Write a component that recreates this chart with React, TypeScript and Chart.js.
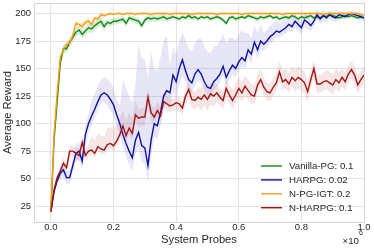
import React, { useEffect, useRef } from 'react';
import { Chart, registerables } from 'chart.js';

Chart.register(...registerables);

const probes = [
  0, 0.01, 0.02, 0.03, 0.04, 0.05, 0.06, 0.07, 0.08, 0.09,
  0.1, 0.11, 0.12, 0.13, 0.14, 0.15, 0.16, 0.17, 0.18, 0.19,
  0.2, 0.21, 0.22, 0.23, 0.24, 0.25, 0.26, 0.27, 0.28, 0.29,
  0.3, 0.31, 0.32, 0.33, 0.34, 0.35, 0.36, 0.37, 0.38, 0.39,
  0.4, 0.41, 0.42, 0.43, 0.44, 0.45, 0.46, 0.47, 0.48, 0.49,
  0.5, 0.51, 0.52, 0.53, 0.54, 0.55, 0.56, 0.57, 0.58, 0.59,
  0.6, 0.61, 0.62, 0.63, 0.64, 0.65, 0.66, 0.67, 0.68, 0.69,
  0.7, 0.71, 0.72, 0.73, 0.74, 0.75, 0.76, 0.77, 0.78, 0.79,
  0.8, 0.81, 0.82, 0.83, 0.84, 0.85, 0.86, 0.87, 0.88, 0.89,
  0.9, 0.91, 0.92, 0.93, 0.94, 0.95, 0.96, 0.97, 0.98, 0.99, 1.0,
];

const vanillaPG = [
  20, 85, 120, 155, 168, 168, 174, 178, 183, 185,
  181, 184, 187, 186, 189, 191, 193, 188, 192, 191,
  193, 193, 194, 195, 191, 196, 195, 194, 193, 189,
  194, 196, 195, 196, 195, 196, 197, 195, 196, 197,
  196, 195, 197, 196, 198, 196, 197, 195, 197, 196,
  197, 195, 196, 197, 196, 194, 191, 196, 197, 195,
  196, 197, 196, 198, 197, 196, 195, 197, 196, 197,
  198, 196, 197, 195, 196, 197, 196, 198, 197, 195,
  197, 196, 197, 198, 196, 197, 196, 198, 197, 199,
  198, 197, 196, 197, 198, 197, 198, 197, 196, 197, 196,
];

const harpg = [
  20, 38, 48, 55, 58, 51, 51, 62, 73, 75,
  66, 90, 100, 107, 113, 120, 126, 128, 126, 122,
  117, 108, 100, 90, 82, 75, 69, 85, 92, 80,
  78, 62, 85, 100, 98, 110, 125, 130, 128, 144,
  138, 150, 158, 148, 140, 137, 145, 149, 145, 138,
  133, 132, 138, 141, 145, 152, 142, 148, 153, 150,
  156, 160, 157, 167, 163, 174, 167, 175, 172, 175,
  179, 181, 184, 183, 185, 187, 190, 188, 193, 190,
  187, 194, 192, 189, 193, 199, 195, 198, 196, 199,
  197, 196, 199, 198, 197, 199, 200, 199, 198, 197, 196,
];

const npgIgt = [
  20, 90, 128, 160, 167, 172, 173, 180, 191, 190,
  188, 192, 193, 190, 196, 195, 199, 198, 199, 200,
  199, 200, 200, 199, 200, 200, 200, 199, 200, 200,
  200, 200, 199, 200, 200, 200, 200, 200, 199, 200,
  200, 200, 200, 200, 200, 199, 200, 200, 200, 200,
  200, 200, 200, 199, 200, 200, 200, 200, 200, 200,
  200, 199, 200, 200, 200, 200, 200, 200, 200, 200,
  200, 200, 200, 200, 199, 200, 200, 200, 200, 200,
  200, 200, 200, 200, 200, 200, 200, 199, 200, 200,
  200, 200, 200, 200, 200, 200, 200, 200, 200, 199, 198,
];

const nHarpg = [
  20, 40, 51, 57, 64, 60, 75, 75, 73, 71,
  83, 71, 75, 76, 73, 79, 77, 76, 81, 82,
  80, 84, 90, 98, 89, 96, 91, 108, 105, 106,
  106, 124, 110, 106, 112, 107, 120, 118, 116, 117,
  119, 118, 114, 125, 131, 122, 121, 124, 122, 126,
  122, 127, 125, 128, 124, 121, 132, 126, 121, 126,
  132, 128, 134, 130, 126, 125, 135, 140, 133, 129,
  128, 133, 137, 147, 138, 140, 136, 142, 139, 142,
  140, 137, 129, 140, 150, 136, 136, 138, 139, 137,
  135, 140, 137, 142, 138, 145, 149, 144, 135, 140, 144,
];

// spread of the shaded bands, read at steps of 0.05 (x 1e6)
const vanillaUp = [1, 4, 4, 4, 3, 3, 3, 3, 2, 2, 2, 2, 2, 2, 2, 2, 2, 2, 2, 2, 2];
const vanillaDown = [1, 4, 4, 4, 3, 3, 3, 3, 2, 2, 2, 2, 2, 2, 2, 2, 2, 2, 2, 2, 2];
const harpgUp = [2, 6, 8, 14, 15, 50, 80, 50, 25, 28, 32, 30, 25, 15, 10, 8, 6, 5, 4, 3, 3];
const harpgDown = [2, 6, 8, 8, 10, 12, 15, 12, 15, 10, 8, 8, 8, 8, 6, 5, 6, 5, 4, 3, 3];
const npgIgtUp = [1, 3, 3, 2, 1, 1, 1, 1, 1, 1, 1, 1, 1, 1, 1, 1, 1, 1, 1, 1, 1];
const npgIgtDown = [1, 3, 3, 2, 1, 1, 1, 1, 1, 1, 1, 1, 1, 1, 1, 1, 1, 1, 1, 1, 1];
const nHarpgUp = [2, 5, 6, 12, 15, 14, 8, 8, 6, 8, 10, 8, 10, 10, 8, 10, 10, 8, 10, 8, 8];
const nHarpgDown = [2, 5, 5, 4, 5, 6, 8, 6, 6, 8, 10, 8, 8, 8, 8, 8, 10, 8, 8, 8, 8];

const xTicks = [0, 0.2, 0.4, 0.6, 0.8, 1.0];
const yTicks = [25, 50, 75, 100, 125, 150, 175, 200];
const legendLabels = ['Vanilla-PG: 0.1', 'HARPG: 0.02', 'N-PG-IGT: 0.2', 'N-HARPG: 0.1'];

const FONT = "'Liberation Sans', Arial, sans-serif";

const seriesDefs = [
  { label: legendLabels[0], values: vanillaPG, up: vanillaUp, down: vanillaDown, color: '#13891a', band: 'rgba(40,160,40,0.18)', order: 4 },
  { label: legendLabels[1], values: harpg, up: harpgUp, down: harpgDown, color: '#10109c', band: 'rgba(80,80,200,0.14)', order: 3 },
  { label: legendLabels[2], values: npgIgt, up: npgIgtUp, down: npgIgtDown, color: '#ff9b14', band: 'rgba(255,160,30,0.18)', order: 2 },
  { label: legendLabels[3], values: nHarpg, up: nHarpgUp, down: nHarpgDown, color: '#a01515', band: 'rgba(170,40,40,0.12)', order: 1 },
];

export default function App() {
  const ref = useRef<HTMLCanvasElement | null>(null);

  useEffect(() => {
    document.body.style.margin = '0';
    const canvas = ref.current;
    if (!canvas) return;

    const datasets: any[] = [];
    seriesDefs.forEach((s) => {
      const low = s.values.map((v, i) => ({ x: probes[i], y: v - s.down[Math.round(i / 5)] }));
      const high = s.values.map((v, i) => ({ x: probes[i], y: v + s.up[Math.round(i / 5)] }));
      datasets.push({ data: low, borderWidth: 0, pointRadius: 0, fill: false, order: 10, borderColor: 'transparent' });
      datasets.push({ data: high, borderWidth: 0, pointRadius: 0, fill: '-1', backgroundColor: s.band, order: 10, borderColor: 'transparent' });
    });
    seriesDefs.forEach((s) => {
      datasets.push({
        label: s.label,
        data: s.values.map((v, i) => ({ x: probes[i], y: v })),
        borderColor: s.color,
        borderWidth: 1.4,
        pointRadius: 0,
        fill: false,
        tension: 0,
        order: s.order,
      });
    });

    const decor = {
      id: 'decor',
      beforeDatasetsDraw(chart: any) {
        const { ctx, chartArea: ca } = chart;
        ctx.save();
        ctx.strokeStyle = '#d4d4d4';
        ctx.lineWidth = 1;
        ctx.strokeRect(Math.round(ca.left) + 0.5, Math.round(ca.top) + 0.5, Math.round(ca.right - ca.left), Math.round(ca.bottom - ca.top));
        ctx.restore();
      },
      afterDraw(chart: any) {
        const { ctx, chartArea: ca } = chart;
        ctx.save();
        // legend
        seriesDefs.forEach((s, i) => {
          const y = ca.bottom - 56 + i * 13.9;
          ctx.strokeStyle = s.color;
          ctx.lineWidth = 1.4;
          ctx.beginPath();
          ctx.moveTo(ca.right - 103, y);
          ctx.lineTo(ca.right - 82, y);
          ctx.stroke();
          ctx.fillStyle = '#262626';
          ctx.font = `9.7px ${FONT}`;
          ctx.textAlign = 'left';
          ctx.textBaseline = 'middle';
          ctx.fillText(s.label, ca.right - 75, y + 0.5);
        });
        // offset text
        ctx.fillStyle = '#262626';
        ctx.font = `9.7px ${FONT}`;
        ctx.textAlign = 'right';
        ctx.textBaseline = 'middle';
        ctx.fillText('×10', ca.right - 5, 241);
        ctx.font = `7px ${FONT}`;
        ctx.textAlign = 'left';
        ctx.fillText('6', ca.right - 5, 233.5);
        ctx.restore();
      },
    };

    const chart = new Chart(canvas, {
      type: 'line',
      data: { datasets },
      options: {
        animation: false,
        responsive: false,
        maintainAspectRatio: false,
        layout: { padding: { top: 3, right: 10, left: 0, bottom: 0 } },
        plugins: {
          legend: { display: false },
          tooltip: { enabled: false },
          filler: { propagate: false },
        },
        scales: {
          x: {
            type: 'linear',
            min: -0.054,
            max: 1.0,
            afterBuildTicks: (scale: any) => {
              scale.ticks = xTicks.map((v) => ({ value: v }));
            },
            afterFit: (scale: any) => {
              scale.height = 28;
              scale.paddingLeft = 0;
              scale.paddingRight = 0;
            },
            grid: { color: '#e4e4e4', drawTicks: false, lineWidth: 1 },
            border: { display: false },
            ticks: {
              color: '#262626',
              font: { family: FONT, size: 9.5 },
              padding: 0,
              maxRotation: 0,
              callback: (v: any) => Number(v).toFixed(1),
            },
            title: {
              display: true,
              text: 'System Probes',
              color: '#262626',
              font: { family: FONT, size: 11.2 },
              padding: { top: 0, bottom: 3 },
            },
          },
          y: {
            type: 'linear',
            min: 10.7,
            max: 209.5,
            afterBuildTicks: (scale: any) => {
              scale.ticks = yTicks.map((v) => ({ value: v }));
            },
            afterFit: (scale: any) => {
              scale.width = 34;
              scale.paddingTop = 0;
              scale.paddingBottom = 0;
            },
            grid: { color: '#e4e4e4', drawTicks: false, lineWidth: 1 },
            border: { display: false },
            ticks: {
              color: '#262626',
              font: { family: FONT, size: 9.5 },
              padding: 3,
            },
            title: {
              display: true,
              text: 'Average Reward',
              color: '#262626',
              font: { family: FONT, size: 11.2 },
              padding: { top: 1, bottom: 0 },
            },
          },
        },
      },
      plugins: [decor],
    });

    return () => chart.destroy();
  }, []);

  return (
    <div style={{ width: 374, height: 250 }}>
      <canvas ref={ref} width={374} height={250} style={{ display: 'block', width: 374, height: 250 }} />
    </div>
  );
}
